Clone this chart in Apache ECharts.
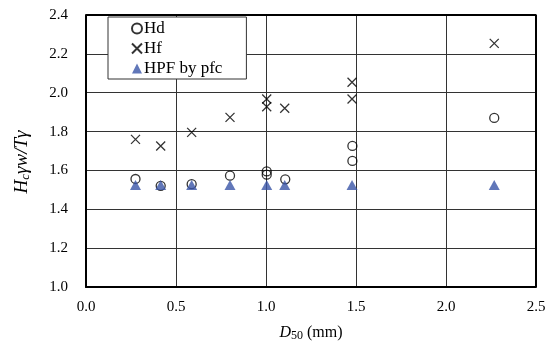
<!DOCTYPE html>
<html>
<head>
<meta charset="utf-8">
<script src="https://cdn.jsdelivr.net/npm/echarts@6/dist/echarts.min.js"></script>
<style>
  html, body { margin: 0; padding: 0; background: #fff; }
  #box { width: 550px; height: 342px; }
</style>
</head>
<body>
<div id="box"></div>
<script>
var xTicks = [0.0, 0.5, 1.0, 1.5, 2.0, 2.5];
var yTicks = [1.0, 1.2, 1.4, 1.6, 1.8, 2.0, 2.2, 2.4];

var hdX = [0.275, 0.415, 0.587, 0.80, 1.004, 1.004, 1.107, 1.48, 1.48, 2.268];
var hdY = [1.556, 1.521, 1.529, 1.573, 1.595, 1.578, 1.554, 1.726, 1.649, 1.870];

var hfX = [0.275, 0.415, 0.587, 0.80, 1.004, 1.004, 1.104, 1.478, 1.478, 2.268];
var hfY = [1.760, 1.726, 1.796, 1.873, 1.968, 1.928, 1.920, 2.054, 1.968, 2.254];

var pfcX = [0.275, 0.415, 0.587, 0.80, 1.004, 1.104, 1.478, 2.268];
var pfcY = [1.525, 1.525, 1.525, 1.525, 1.525, 1.525, 1.525, 1.525];

function pairs(xs, ys) {
    return xs.map(function (x, i) { return [x, ys[i]]; });
}

var serif = 'Liberation Serif';
var chart = echarts.init(document.getElementById('box'));
var option = {
    animation: false,
    grid: { left: 86, right: 14, top: 15, bottom: 55, containLabel: false, outerBoundsMode: 'none' },
    legend: {
        orient: 'vertical',
        left: 108, top: 17,
        padding: [3, 24, 2, 23],
        itemGap: 3,
        itemWidth: 10, itemHeight: 10,
        borderColor: '#333', borderWidth: 1,
        backgroundColor: '#fff',
        textStyle: { fontFamily: serif, fontSize: 17, color: '#000', padding: [0, 0, 0, -3] },
        data: ['Hd', 'Hf', 'HPF by pfc']
    },
    xAxis: {
        type: 'value', min: 0, max: 2.5, interval: 0.5,
        name: '{i|D}{s|50}{n| (mm)}',
        nameLocation: 'middle', nameGap: 36,
        nameTextStyle: {
            rich: {
                i: { fontFamily: serif, fontStyle: 'italic', fontSize: 16, color: '#000' },
                s: { fontFamily: serif, fontSize: 12, color: '#000', verticalAlign: 'bottom', padding: [7, 0, 0, 0] },
                n: { fontFamily: serif, fontSize: 16, color: '#000' }
            }
        },
        axisLine: { lineStyle: { color: '#000', width: 2 } },
        axisTick: { show: false },
        axisLabel: {
            fontFamily: serif, fontSize: 15, color: '#000', margin: 13,
            formatter: function (v) { return v.toFixed(1); }
        },
        splitLine: { lineStyle: { color: '#333', width: 1 } }
    },
    yAxis: {
        type: 'value', min: 1.0, max: 2.4, interval: 0.2,
        name: '{i|H}{s|c}{i|γw/Tγ}',
        nameLocation: 'middle', nameGap: 54, nameRotate: 90,
        nameTextStyle: {
            padding: [0, 22, 0, 0],
            rich: {
                i: { fontFamily: serif, fontStyle: 'italic', fontSize: 19, color: '#000' },
                s: { fontFamily: serif, fontStyle: 'italic', fontSize: 13, color: '#000', verticalAlign: 'bottom', padding: [8, 0, 0, 0] }
            }
        },
        axisLine: { show: true, lineStyle: { color: '#000', width: 2 } },
        axisTick: { show: false },
        axisLabel: {
            fontFamily: serif, fontSize: 15, color: '#000', margin: 18,
            formatter: function (v) { return v.toFixed(1); }
        },
        splitLine: { lineStyle: { color: '#333', width: 1 } }
    },
    series: [
        {
            name: 'Hd', type: 'scatter', z: 3,
            symbol: 'circle', symbolSize: 9,
            itemStyle: { color: 'rgba(0,0,0,0)', borderColor: '#000', borderWidth: 1.3 },
            data: pairs(hdX, hdY)
        },
        {
            name: 'Hf', type: 'scatter', z: 3,
            symbol: 'path://M0,0L10,10M10,0L0,10', symbolSize: 9,
            itemStyle: { color: 'rgba(0,0,0,0)', borderColor: '#000', borderWidth: 1.3 },
            data: pairs(hfX, hfY)
        },
        {
            name: 'HPF by pfc', type: 'scatter', z: 4,
            symbol: 'triangle', symbolSize: [11, 10],
            itemStyle: { color: '#3a55a8' },
            data: pairs(pfcX, pfcY)
        },
        {
            // frame on the top and right sides
            type: 'line', silent: true, symbol: 'none',
            lineStyle: { color: '#000', width: 2 },
            data: [[0, 2.4], [2.5, 2.4], [2.5, 1.0]]
        }
    ]
};
chart.setOption(option, true);
</script>
</body>
</html>
